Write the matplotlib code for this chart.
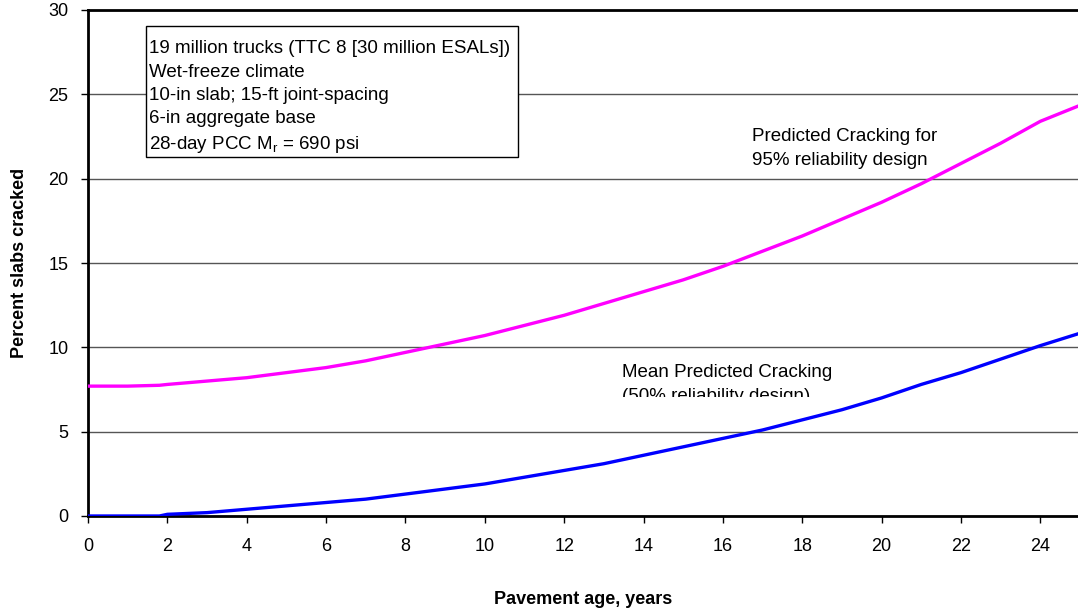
import numpy as np
import matplotlib
matplotlib.use("Agg")
import matplotlib.pyplot as plt
from matplotlib.patches import Rectangle
from matplotlib.transforms import Bbox, TransformedBbox

plt.rcParams['font.family'] = ['Liberation Sans', 'DejaVu Sans']
plt.rcParams['mathtext.fontset'] = 'custom'
plt.rcParams['mathtext.rm'] = 'Liberation Sans'

# pavement age, years
age = [0, 1, 1.8, 2, 3, 4, 5, 6, 7, 8, 9, 10, 11, 12, 13, 14, 15, 16, 17, 18,
       19, 20, 21, 22, 23, 24, 24.95]
# percent slabs cracked, 95% reliability
crack_95 = [7.7, 7.7, 7.75, 7.8, 8.0, 8.2, 8.5, 8.8, 9.2, 9.7, 10.2, 10.7, 11.3,
            11.9, 12.6, 13.3, 14.0, 14.8, 15.7, 16.6, 17.6, 18.6, 19.7, 20.9,
            22.1, 23.4, 24.3]
# percent slabs cracked, mean (50% reliability)
crack_50 = [0.0, 0.0, 0.0, 0.1, 0.2, 0.4, 0.6, 0.8, 1.0, 1.3, 1.6, 1.9, 2.3,
            2.7, 3.1, 3.6, 4.1, 4.6, 5.1, 5.7, 6.3, 7.0, 7.8, 8.5, 9.3, 10.1, 10.8]

xticks = np.arange(0, 25, 2)
yticks = np.arange(0, 31, 5)

info = ("19 million trucks (TTC 8 [30 million ESALs])\n"
        "Wet-freeze climate\n"
        "10-in slab; 15-ft joint-spacing\n"
        "6-in aggregate base\n"
        "28-day PCC M$_\\mathregular{r}$ = 690 psi")

fig = plt.figure(figsize=(10.78, 6.11), dpi=100)
ax = fig.add_axes([88 / 1078, 1 - 516 / 611, 1 - 88 / 1078, (516 - 10) / 611])

ax.plot(age, crack_95, color='#ff00ff', lw=2.4, zorder=3)
ax.plot(age, crack_50, color='#0000ff', lw=2.4, zorder=3)

ax.set_xlim(0, 24.95)
ax.set_ylim(0, 30)
ax.set_xticks(xticks)
ax.set_yticks(yticks)
ax.yaxis.grid(True, color='#555555', lw=1.0)
ax.set_axisbelow(True)
ax.tick_params(labelsize=13, direction='out', length=5, width=1)
ax.tick_params(axis='y', pad=9)
ax.tick_params(axis='x', pad=11)

for s in ['left', 'bottom', 'top']:
    ax.spines[s].set_linewidth(2)
    ax.spines[s].set_color('black')
ax.spines['right'].set_visible(False)

ax.set_xlabel('Pavement age, years', fontsize=13, fontweight='bold', va='center')
ax.set_ylabel('Percent slabs cracked', fontsize=13, fontweight='bold', va='center')
ax.xaxis.set_label_coords(0.5, (516 - 600) / 506)
ax.yaxis.set_label_coords((20 - 88) / 990, 0.5)

# info box
ax.add_patch(Rectangle((1.46, 21.28), 10.84 - 1.46, 29.05 - 21.28, fc='white',
                       ec='black', lw=1, zorder=4))
ax.text(1.54, 28.2, info, fontsize=13.5, va='top', ha='left', linespacing=1.48,
        zorder=5)

ax.text(16.73, 23.0, "Predicted Cracking for\n95% reliability design", fontsize=13.5,
        va='top', ha='left', linespacing=1.57)

t = ax.text(13.46, 9.0, "Mean Predicted Cracking\n(50% reliability design)", fontsize=13.5,
            va='top', ha='left', linespacing=1.5, clip_on=True)
t.set_clip_path(None)
t.set_clip_box(TransformedBbox(Bbox([[13.0, 7.05], [21.0, 10.0]]), ax.transData))

fig.savefig('out.png', dpi=100)
